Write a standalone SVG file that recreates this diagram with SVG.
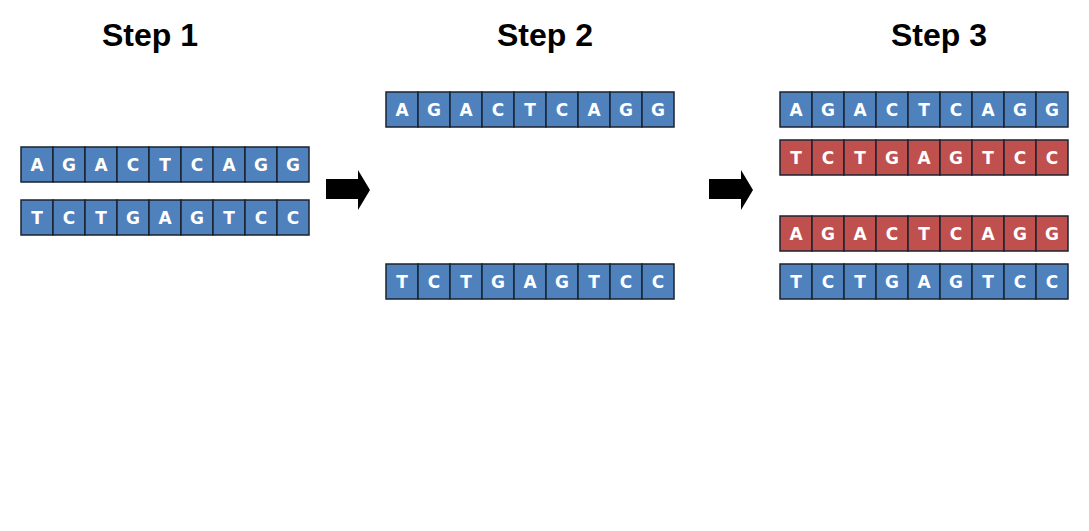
<svg xmlns="http://www.w3.org/2000/svg" width="1089" height="531" viewBox="0 0 1089 531">
<style>
.t{font-family:"Liberation Sans",Arial,sans-serif;font-weight:bold;font-size:32px;fill:#000;text-anchor:middle}
.b{fill:#4f81bd;stroke:#1b2330;stroke-width:1.5}
.r{fill:#c0504d;stroke:#1b2330;stroke-width:1.5}
.l{font-family:"DejaVu Sans",Verdana,sans-serif;font-weight:bold;font-size:17px;fill:#fff;text-anchor:middle}
</style>
<defs>
<g id="cellsB"><rect class="b" x="0" y="0" width="32" height="35"/><rect class="b" x="32" y="0" width="32" height="35"/><rect class="b" x="64" y="0" width="32" height="35"/><rect class="b" x="96" y="0" width="32" height="35"/><rect class="b" x="128" y="0" width="32" height="35"/><rect class="b" x="160" y="0" width="32" height="35"/><rect class="b" x="192" y="0" width="32" height="35"/><rect class="b" x="224" y="0" width="32" height="35"/><rect class="b" x="256" y="0" width="32" height="35"/></g>
<g id="cellsR"><rect class="r" x="0" y="0" width="32" height="35"/><rect class="r" x="32" y="0" width="32" height="35"/><rect class="r" x="64" y="0" width="32" height="35"/><rect class="r" x="96" y="0" width="32" height="35"/><rect class="r" x="128" y="0" width="32" height="35"/><rect class="r" x="160" y="0" width="32" height="35"/><rect class="r" x="192" y="0" width="32" height="35"/><rect class="r" x="224" y="0" width="32" height="35"/><rect class="r" x="256" y="0" width="32" height="35"/></g>
<g id="seq1" class="l"><text x="16" y="24">A</text><text x="48" y="24">G</text><text x="80" y="24">A</text><text x="112" y="24">C</text><text x="144" y="24">T</text><text x="176" y="24">C</text><text x="208" y="24">A</text><text x="240" y="24">G</text><text x="272" y="24">G</text></g>
<g id="seq2" class="l"><text x="16" y="24">T</text><text x="48" y="24">C</text><text x="80" y="24">T</text><text x="112" y="24">G</text><text x="144" y="24">A</text><text x="176" y="24">G</text><text x="208" y="24">T</text><text x="240" y="24">C</text><text x="272" y="24">C</text></g>
</defs>
<g id="titles">
<text class="t" x="150" y="46">Step 1</text>
<text class="t" x="545" y="46">Step 2</text>
<text class="t" x="939" y="46">Step 3</text>
</g>
<g id="s1-top" transform="translate(21,147)"><use href="#cellsB"/><use href="#seq1"/></g>
<g id="s1-bottom" transform="translate(21,200)"><use href="#cellsB"/><use href="#seq2"/></g>
<g id="s2-top" transform="translate(386,92)"><use href="#cellsB"/><use href="#seq1"/></g>
<g id="s2-bottom" transform="translate(386,264)"><use href="#cellsB"/><use href="#seq2"/></g>
<g id="s3-a" transform="translate(780,92)"><use href="#cellsB"/><use href="#seq1"/></g>
<g id="s3-b" transform="translate(780,140)"><use href="#cellsR"/><use href="#seq2"/></g>
<g id="s3-c" transform="translate(780,216)"><use href="#cellsR"/><use href="#seq1"/></g>
<g id="s3-d" transform="translate(780,264)"><use href="#cellsB"/><use href="#seq2"/></g>
<g id="connectors">
<polygon points="326,179 358,179 358,170 370,190 358,210 358,199 326,199" fill="#000"/>
<polygon points="709,179 741,179 741,170 753,190 741,210 741,199 709,199" fill="#000"/>
</g>
</svg>
